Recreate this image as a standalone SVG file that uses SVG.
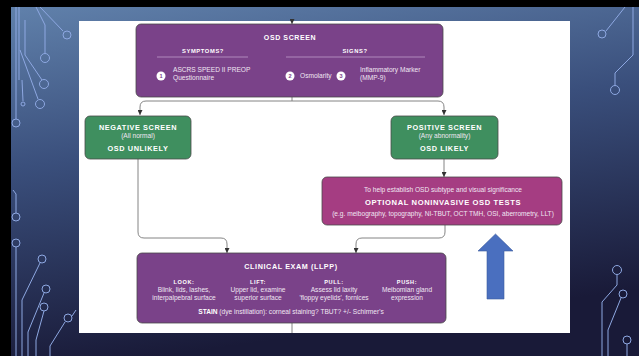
<svg xmlns="http://www.w3.org/2000/svg" width="639" height="356" viewBox="0 0 639 356">
<defs>
<linearGradient id="bg" x1="0" y1="0" x2="0.25" y2="1">
<stop offset="0" stop-color="#6283ad"/>
<stop offset="0.45" stop-color="#3a4f7c"/>
<stop offset="1" stop-color="#191a38"/>
</linearGradient>
<marker id="ah" viewBox="0 0 10 10" refX="10" refY="5" markerWidth="5" markerHeight="5" markerUnits="userSpaceOnUse" orient="auto">
<path d="M0,0 L10,5 L0,10 z" fill="#333"/>
</marker>
<style>
.box{stroke:#4a4a4a;stroke-width:0.8}
.pur{fill:#7a4289}
.grn{fill:#3f8f5f}
.pnk{fill:#a53d82}
.con{fill:none;stroke:#777;stroke-width:0.9}
.cir{fill:none;stroke:#8ea8e2;stroke-width:1}
text{font-family:"Liberation Sans","Open Sans",Arial,sans-serif;fill:#fff;text-anchor:middle}
.h{font-weight:bold;letter-spacing:0.6px}
.s{font-size:6.6px;fill:#f0e6f2}
.sl{font-size:6.6px;fill:#f0e6f2;text-anchor:start}
.num{font-size:5.6px;font-weight:bold;fill:#7a4289}
</style>
</defs>
<rect x="0" y="0" width="639" height="356" fill="url(#bg)"/>
<rect x="0" y="0" width="639" height="7" fill="#000"/>
<rect x="0" y="0" width="11" height="356" fill="#000"/>
<g id="circuits" class="cir">
<path d="M16,7 V119"/><circle cx="16" cy="123" r="4"/>
<path d="M19,7 V80"/>
<path d="M40,7 L63,31"/><circle cx="67" cy="35" r="4"/>
<path d="M36,7 L45,25 V53"/><circle cx="45" cy="58" r="4.5"/>
<path d="M25,20 V55 L42,80"/><circle cx="44" cy="84" r="4.5"/>
<path d="M20,50 L38,99"/><circle cx="40" cy="104" r="4.5"/>
<path d="M22,80 L23,101"/><circle cx="23" cy="104" r="2"/>
<path d="M13,190 L16,194 V213"/><circle cx="16" cy="217" r="4"/>
<circle cx="16" cy="243" r="4"/><path d="M16,247 V356"/>
<path d="M22,356 V300 L40,263"/><circle cx="42" cy="259" r="4"/>
<path d="M28,356 V332 L44,293"/><circle cx="46" cy="289" r="4"/>
<circle cx="44" cy="307" r="4"/><path d="M44,311 L36,340 V356"/>
<path d="M50,356 V346 L65,322"/><circle cx="68" cy="318" r="4"/>
<path d="M72,316 L76,310"/>
<path d="M625,7 L606,31"/><circle cx="602" cy="34" r="4"/>
<path d="M633,7 V55 L615,73 V85"/><circle cx="615" cy="90" r="4.5"/>
<circle cx="617" cy="270" r="4.5"/><path d="M617,275 V285 L602,302 V356"/>
<circle cx="623" cy="294" r="4"/><path d="M621,298 L608,330 V356"/>
<circle cx="627" cy="340" r="4"/><path d="M627,344 V356"/>
</g>
<rect x="79" y="21" width="491" height="312" fill="#fff"/>
<g id="connectors">
<path class="con" d="M292,19 V24" marker-end="url(#ah)"/>
<path class="con" d="M292,97 V101 H146 Q140,101 140,107 V115" marker-end="url(#ah)"/>
<path class="con" d="M292,101 H438 Q444,101 444,107 V115" marker-end="url(#ah)"/>
<path class="con" d="M444,159 V177" marker-end="url(#ah)"/>
<path class="con" d="M138,159 V232 Q138,238 144,238 H221 Q227,238 227,244 V253" marker-end="url(#ah)"/>
<path class="con" d="M445,225 V232 Q445,238 439,238 H362 Q356,238 356,244 V253" marker-end="url(#ah)"/>
<path class="con" d="M292,323 V333"/>
</g>
<g id="osd-screen">
<rect class="box pur" x="136" y="24" width="307" height="73" rx="5"/>
<text class="h" x="290" y="40" font-size="7">OSD SCREEN</text>
<text class="h" x="203" y="53" font-size="5.8" letter-spacing="0.3">SYMPTOMS?</text>
<text class="h" x="355" y="53" font-size="5.8" letter-spacing="0.3">SIGNS?</text>
<line x1="157" y1="57" x2="248" y2="57" stroke="#c9a6d2" stroke-width="0.7"/>
<line x1="286" y1="57" x2="425" y2="57" stroke="#c9a6d2" stroke-width="0.7"/>
<circle cx="161" cy="76" r="4.5" fill="#fff"/><text class="num" x="161" y="78">1</text>
<text class="sl" x="173" y="72" font-size="5.8">ASCRS SPEED II PREOP</text>
<text class="sl" x="173" y="80">Questionnaire</text>
<circle cx="290" cy="76" r="4.5" fill="#fff"/><text class="num" x="290" y="78">2</text>
<text class="sl" x="300" y="78" font-size="6.1">Osmolarity</text>
<circle cx="341" cy="76" r="4.5" fill="#fff"/><text class="num" x="341" y="78">3</text>
<text class="sl" x="360" y="72">Inflammatory Marker</text>
<text class="sl" x="360" y="80">(MMP-9)</text>
</g>
<g id="negative-screen">
<rect class="box grn" x="85" y="116" width="106" height="43" rx="5"/>
<text class="h" x="138" y="130" font-size="7.3" letter-spacing="0.55">NEGATIVE SCREEN</text>
<text class="s" x="138" y="138" font-size="6.2">(All normal)</text>
<text class="h" x="138" y="151" font-size="7.3" letter-spacing="0.55">OSD UNLIKELY</text>
</g>
<g id="positive-screen">
<rect class="box grn" x="391" y="116" width="107" height="43" rx="5"/>
<text class="h" x="444.5" y="130" font-size="7.3" letter-spacing="0.55">POSITIVE SCREEN</text>
<text class="s" x="444.5" y="138" font-size="6.2">(Any abnormality)</text>
<text class="h" x="444.5" y="151" font-size="7.3" letter-spacing="0.55">OSD LIKELY</text>
</g>
<g id="optional-tests">
<rect class="box pnk" x="322" y="177" width="240" height="48" rx="5"/>
<text class="s" x="443" y="192" font-size="6.9">To help establish OSD subtype and visual significance</text>
<text class="h" x="443" y="205" font-size="7.6" letter-spacing="0.7">OPTIONAL NONINVASIVE OSD TESTS</text>
<text class="s" x="443" y="216" font-size="7.2">(e.g. meibography, topography, NI-TBUT, OCT TMH, OSI, aberrometry, LLT)</text>
</g>
<g id="clinical-exam">
<rect class="box pur" x="137" y="253" width="309" height="70" rx="5"/>
<text class="h" x="291" y="269" font-size="7.2" letter-spacing="0.6">CLINICAL EXAM (LLPP)</text>
<text class="h" x="184" y="284" font-size="5.6" letter-spacing="0.2">LOOK:</text>
<text class="s" x="184" y="292">Blink, lids, lashes,</text>
<text class="s" x="184" y="300">interpalpebral surface</text>
<text class="h" x="258" y="284" font-size="5.6" letter-spacing="0.2">LIFT:</text>
<text class="s" x="258" y="292">Upper lid, examine</text>
<text class="s" x="258" y="300">superior surface</text>
<text class="h" x="334" y="284" font-size="5.6" letter-spacing="0.2">PULL:</text>
<text class="s" x="334" y="292">Assess lid laxity</text>
<text class="s" x="334" y="300">'floppy eyelids', fornices</text>
<text class="h" x="407" y="284" font-size="5.6" letter-spacing="0.2">PUSH:</text>
<text class="s" x="407" y="292">Meibomian gland</text>
<text class="s" x="407" y="300">expression</text>
<text class="s" x="291" y="314" font-size="5.8"><tspan font-weight="bold" fill="#fff">STAIN</tspan> (dye instillation): corneal staining? TBUT? +/- Schirmer's</text>
</g>
<g id="blue-arrow">
<path d="M495.5,234 L513,251 L504,251 L504,299 L487,299 L487,251 L478,251 Z" fill="#4a6fbf" stroke="#3a5a9e" stroke-width="0.6"/>
</g>
</svg>
